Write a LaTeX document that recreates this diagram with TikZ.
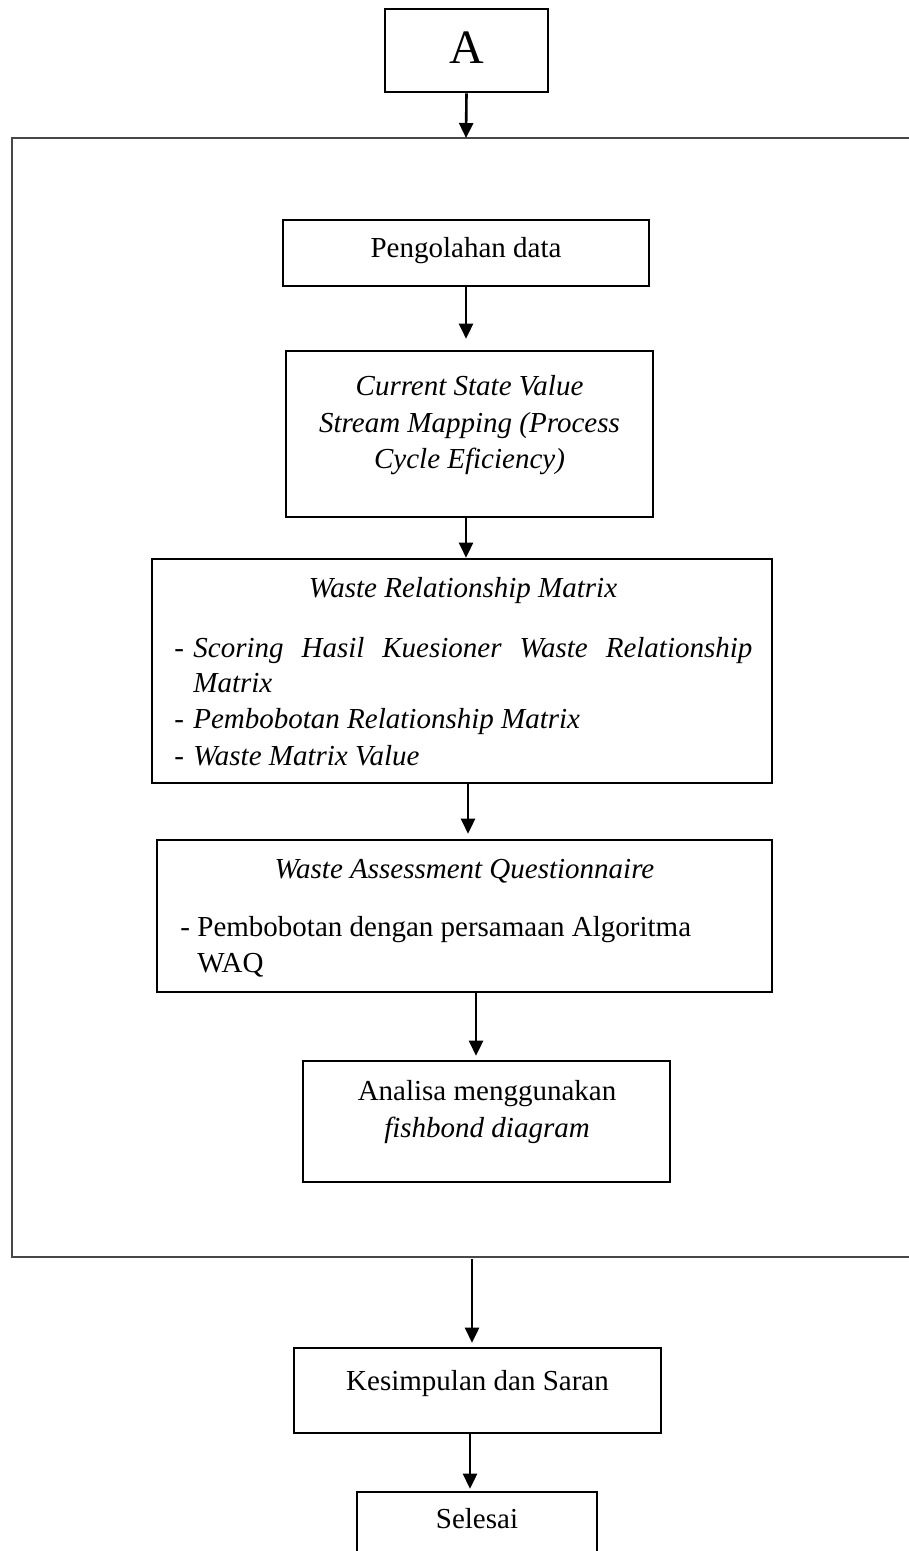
\documentclass[tikz,border=0pt]{standalone}
\usepackage{fontspec}
\setmainfont{Liberation Serif}
\usetikzlibrary{arrows.meta}
\begin{document}
\begin{tikzpicture}[x=0.5pt,y=-0.5pt,
  box/.style={draw=black,line width=1.3pt,inner sep=0pt},
  txt/.style={inner sep=0pt,anchor=base,font=\fontsize{14.5pt}{18pt}\selectfont},
  itx/.style={txt,font=\fontsize{14.5pt}{18pt}\selectfont\itshape},
  arr/.style={line width=1.3pt,-{Triangle[width=7pt,length=7.5pt]}},
  frm/.style={draw=black!72,line width=0.9pt}]
\useasboundingbox (0,0) rectangle (909,1551);
\fill[white] (0,0) rectangle (909,1551);
% boxes
\node[box,minimum width=81.5pt,minimum height=41.5pt] (A) at (466.5,50.5) {};
\node[box,minimum width=183pt,minimum height=33pt] (peng) at (466,253) {};
\node[box,minimum width=183.5pt,minimum height=83pt] (cs) at (469.5,434) {};
\node[box,minimum width=310pt,minimum height=112pt] (wrm) at (462,671) {};
\node[box,minimum width=307.5pt,minimum height=76pt] (waq) at (464.5,916) {};
\node[box,minimum width=183.5pt,minimum height=60.5pt] (ana) at (486.5,1121.5) {};
\node[box,minimum width=183.5pt,minimum height=42.5pt] (kes) at (477.5,1390.5) {};
\node[box,minimum width=120pt,minimum height=42.5pt] (sel) at (477,1534.5) {};
% frame
\coordinate (fTL) at (12,138);
\coordinate (fTR) at (909,138);
\coordinate (fBL) at (12,1257);
\coordinate (fBR) at (909,1257);
\coordinate (fin) at (466,138);
\coordinate (fout) at (472,1259);
\draw[frm] (fTR) -- (fTL) -- (fBL) -- (fBR);
% texts
\node[txt,font=\fontsize{24pt}{28pt}\selectfont] (Atxt) at (466.5,64) {A};
\node[txt] (pengtxt) at (466,258) {Pengolahan data};
\node[itx] (cs1) at (469.5,395) {Current State Value};
\node[itx] (cs2) at (469.5,432) {Stream Mapping (Process};
\node[itx] (cs3) at (469.5,468) {Cycle Eficiency)};
\node[itx] (wrmt) at (463,597) {Waste Relationship Matrix};
\node[txt,anchor=base west] (w1d) at (174,657) {-};
\node[itx,anchor=base west] (w1) at (193,657) {\makebox[279.5pt][s]{Scoring Hasil Kuesioner Waste Relationship}};
\node[itx,anchor=base west] (w2) at (193,692) {Matrix};
\node[txt,anchor=base west] (w3d) at (174,728) {-};
\node[itx,anchor=base west] (w3) at (193,728) {Pembobotan Relationship Matrix};
\node[txt,anchor=base west] (w4d) at (174,765) {-};
\node[itx,anchor=base west] (w4) at (193,765) {Waste Matrix Value};
\node[itx] (waqt) at (464.5,878) {Waste Assessment Questionnaire};
\node[txt,anchor=base west] (q1d) at (180,936) {-};
\node[txt,anchor=base west] (q1) at (197,936) {Pembobotan dengan persamaan Algoritma};
\node[txt,anchor=base west] (q2) at (197,972) {WAQ};
\node[txt] (ana1) at (487,1100) {Analisa menggunakan};
\node[itx] (ana2) at (487,1137) {fishbond diagram};
\node[txt] (kestxt) at (477.5,1390) {Kesimpulan dan Saran};
\node[txt] (seltxt) at (477,1528) {Selesai};
% arrows
\draw[arr] (A.south) -- (fin);
\draw[arr,shorten >=5.5pt] (peng.south) -- (peng.south |- cs.north);
\draw[arr] (peng.south |- cs.south) -- (peng.south |- wrm.north);
\draw[arr,shorten >=2.5pt] (468,783) coordinate (w2qa) -- (w2qa |- waq.north);
\draw[arr,shorten >=2pt] (476,992) coordinate (q2aa) -- (q2aa |- ana.north);
\draw[arr,shorten >=2pt] (fout) -- (fout |- kes.north);
\draw[arr,shorten >=1pt] (470,1433) coordinate (k2sa) -- (k2sa |- sel.north);
\end{tikzpicture}
\end{document}
